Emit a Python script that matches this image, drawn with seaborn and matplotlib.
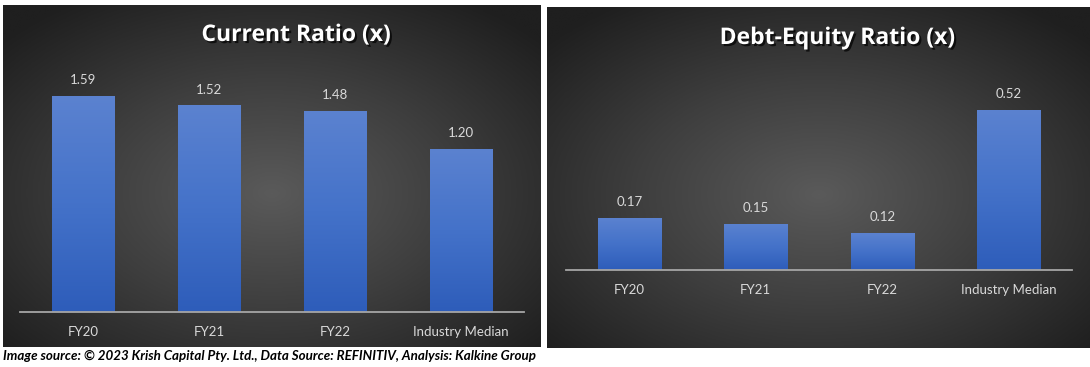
import numpy as np
import pandas as pd
import matplotlib
matplotlib.use("Agg")
import matplotlib.pyplot as plt
import matplotlib.patheffects as pe
from matplotlib.colors import LinearSegmentedColormap
import seaborn as sns

# data
categories = ["FY20", "FY21", "FY22", "Industry Median"]
current_ratio = [1.59, 1.52, 1.48, 1.20]
debt_equity = [0.17, 0.15, 0.12, 0.52]
current_labels = ["1.59", "1.52", "1.48", "1.20"]
debt_labels = ["0.17", "0.15", "0.12", "0.52"]
caption = ("Image source: \u00a9 2023 Krish Capital Pty. Ltd., Data Source: REFINITIV, "
           "Analysis: Kalkine Group")

sns.set_theme(style="white")
plt.rcParams["font.family"] = ["Lato", "DejaVu Sans"]

W, H = 1090, 367
fig = plt.figure(figsize=(W / 100, H / 100), dpi=100)
fig.patch.set_facecolor("white")


def px_axes(x0, y0, x1, y1):
    # pixel box with y measured from the top of the figure
    return fig.add_axes([x0 / W, 1 - y1 / H, (x1 - x0) / W, (y1 - y0) / H])


bg_cmap = LinearSegmentedColormap.from_list("bg", ["#5a5a5a", "#3e3e3e", "#1f1f1f"])
bar_cmap = LinearSegmentedColormap.from_list("bar", ["#2e5dba", "#4472c9", "#5b82d0"])

yy, xx = np.mgrid[-1:1:300j, -1:1:500j]
radial = np.clip(np.sqrt(xx ** 2 + (yy + 0.1) ** 2) / 1.35, 0, 1)
vertical = np.linspace(0, 1, 100).reshape(-1, 1)


def panel(box, plot_box, ymax, values, labels, title, title_xy):
    bg = px_axes(*box)
    bg.imshow(radial, cmap=bg_cmap, aspect="auto", vmin=0, vmax=1,
              extent=[0, 1, 0, 1], origin="lower")
    bg.set_axis_off()

    ax = px_axes(*plot_box)
    ax.set_facecolor("none")
    df = pd.DataFrame({"cat": categories, "val": values})
    sns.barplot(data=df, x="cat", y="val", ax=ax, width=0.5, color="#4472c4",
                saturation=1, linewidth=0, edgecolor="none")
    for bar in ax.patches:
        x, y = bar.get_x(), bar.get_y()
        w, h = bar.get_width(), bar.get_height()
        im = ax.imshow(vertical, cmap=bar_cmap, aspect="auto",
                       extent=[x, x + w, y, y + h], origin="lower", zorder=3)
        im.set_clip_path(bar)
    ax.set_xlim(-0.5, 3.5)
    ax.set_ylim(0, ymax)
    ax.bar_label(ax.containers[0], labels=labels, padding=7,
                 color="#d9d9d9", fontsize=9.5)
    for s in ["top", "left", "right"]:
        ax.spines[s].set_visible(False)
    ax.spines["bottom"].set_color("#a6a6a6")
    ax.spines["bottom"].set_linewidth(1.3)
    ax.spines["bottom"].set_zorder(5)
    ax.set_yticks([])
    ax.set_xlabel("")
    ax.set_ylabel("")
    ax.tick_params(axis="x", length=0, pad=10, labelsize=9.5, labelcolor="#d9d9d9")

    fig.text(title_xy[0] / W, 1 - title_xy[1] / H, title, ha="center", va="center",
             color="white", fontsize=16.5, fontweight="bold",
             family=["Open Sans", "DejaVu Sans"],
             path_effects=[pe.withSimplePatchShadow(offset=(1.5, -1.5),
                                                    shadow_rgbFace="black", alpha=0.7)])


panel((3, 5, 541, 347), (20, 60, 524, 312), (312 - 60) / 136,
      current_ratio, current_labels, "Current Ratio (x)", (296, 35))
panel((547, 7, 1090, 348), (566, 60, 1072, 270), (270 - 60) / 308,
      debt_equity, debt_labels, "Debt-Equity Ratio (x)", (837, 38))

fig.text(3 / W, 1 - 356 / H, caption, ha="left", va="center", color="black",
         fontsize=9.6, fontweight="bold", style="italic")

fig.savefig("out.png", dpi=100, facecolor="white")
